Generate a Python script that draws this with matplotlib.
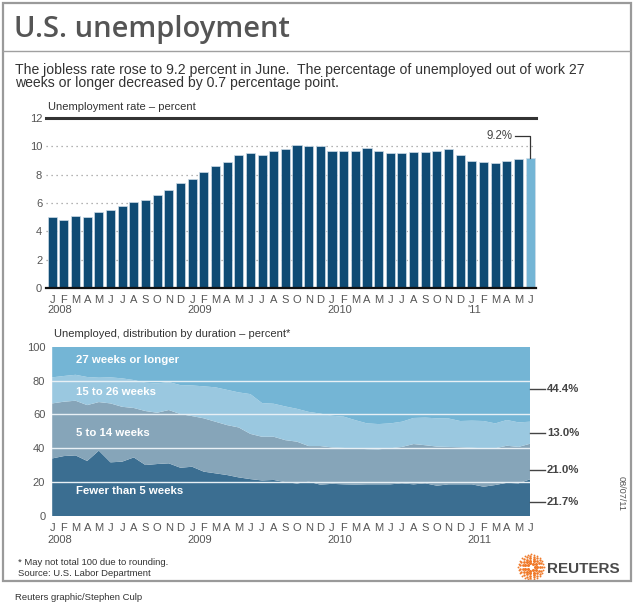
import matplotlib
matplotlib.use('Agg')
import matplotlib.pyplot as plt
import numpy as np
from matplotlib.patches import Rectangle
from matplotlib.lines import Line2D
import matplotlib.transforms as mtrans

W, H = 633, 602

# ---------------- data ----------------
months = list("JFMAMJJASOND") * 3 + list("JFMAMJ")
year_idx = [0, 12, 24, 36]
years_top = ["2008", "2009", "2010", "'11"]
years_bottom = ["2008", "2009", "2010", "2011"]

rate = [5.0, 4.8, 5.1, 5.0, 5.4, 5.5, 5.8, 6.1, 6.2, 6.6, 6.9, 7.4,
        7.7, 8.2, 8.6, 8.9, 9.4, 9.5, 9.4, 9.7, 9.8, 10.1, 10.0, 10.0,
        9.7, 9.7, 9.7, 9.9, 9.7, 9.5, 9.5, 9.6, 9.6, 9.7, 9.8, 9.4,
        9.0, 8.9, 8.8, 9.0, 9.1, 9.2]

fewer5 = [34.0, 35.4, 35.8, 32.5, 38.6, 31.7, 32.1, 34.6, 30.1, 30.7, 31.1, 28.5,
          29.1, 26.2, 25.2, 24.2, 22.8, 21.8, 21.0, 21.3, 20.0, 19.2, 20.3, 18.5,
          19.0, 18.7, 18.5, 18.7, 18.7, 18.7, 19.3, 18.7, 19.3, 17.9, 18.7, 18.7,
          18.7, 17.3, 18.3, 19.6, 19.3, 21.7]
w5_14 = [32.5, 32.1, 32.3, 33.0, 28.7, 34.8, 32.4, 29.2, 31.9, 30.3, 31.5, 31.7,
         29.9, 31.5, 30.5, 29.5, 29.5, 26.7, 25.8, 25.5, 24.8, 24.7, 21.0, 22.8,
         21.5, 21.5, 21.3, 20.8, 20.7, 21.3, 21.5, 23.8, 22.5, 23.1, 22.1, 21.9,
         21.6, 22.7, 21.7, 21.9, 21.5, 21.0]
w15_26 = [15.4, 15.2, 15.3, 16.6, 14.4, 15.4, 16.8, 16.5, 16.7, 17.3, 16.5, 17.1,
          18.1, 18.9, 20.3, 20.8, 20.7, 23.5, 19.9, 19.5, 19.9, 19.4, 20.2, 19.2,
          18.7, 18.5, 16.8, 15.2, 14.9, 14.7, 14.9, 15.4, 16.3, 16.7, 16.8, 15.5,
          16.0, 16.1, 14.7, 15.2, 14.5, 13.0]
w27 = [18.1, 17.3, 16.6, 17.9, 18.3, 18.1, 18.7, 19.7, 21.3, 21.7, 20.9, 22.7,
       22.9, 23.4, 24.0, 25.5, 27.0, 28.0, 33.3, 33.7, 35.3, 36.7, 38.5, 39.5,
       40.8, 41.3, 43.4, 45.3, 45.7, 45.3, 44.3, 42.1, 41.9, 42.3, 42.4, 43.9,
       43.7, 43.9, 45.3, 43.3, 44.7, 44.4]
layer_names = ["Fewer than 5 weeks", "5 to 14 weeks", "15 to 26 weeks", "27 weeks or longer"]
end_labels = ["21.7%", "21.0%", "13.0%", "44.4%"]

# ---------------- style ----------------
SANS = ['Liberation Sans', 'DejaVu Sans']
NARROW = ['Liberation Sans Narrow', 'Liberation Sans', 'DejaVu Sans']
plt.rcParams['font.family'] = SANS
GRAY_TXT = '#555555'
DARK_TXT = '#333333'
BAR = '#0f4b74'
LAST_BAR = '#74b5d5'
LAYER_COLORS = ['#3b6e91', '#86a5b9', '#9ac8e0', '#74b5d5']

fig = plt.figure(figsize=(W / 100, H / 100), dpi=100)


def fx(px):
    return px / W


def fy(py):
    return 1 - py / H


# frame
fig.patches.append(Rectangle((fx(2.5), fy(581)), fx(630.5) - fx(2.5), fy(2.5) - fy(581),
                             transform=fig.transFigure, fill=False,
                             edgecolor='#9a9a9a', lw=1.6))
fig.lines.append(Line2D([fx(3), fx(630)], [fy(51), fy(51)], transform=fig.transFigure,
                        color='#a0a0a0', lw=1.0))

# title and subtitle
fig.text(fx(14), fy(37), "U.S. unemployment", fontsize=21, color=GRAY_TXT,
         family=['Open Sans', 'DejaVu Sans'], fontweight='semibold', va='baseline')
fig.text(fx(15), fy(74), "The jobless rate rose to 9.2 percent in June.  The percentage of unemployed out of work 27",
         fontsize=10.1, color=DARK_TXT, va='baseline')
fig.text(fx(15), fy(87.5), "weeks or longer decreased by 0.7 percentage point.",
         fontsize=10.1, color=DARK_TXT, va='baseline')

# ---------------- top chart ----------------
ax1 = fig.add_axes([fx(46.4), fy(288), fx(536) - fx(46.4), fy(118) - fy(288)])
x = np.arange(len(rate))
colors = [BAR] * (len(rate) - 1) + [LAST_BAR]
ax1.bar(x, rate, width=0.78, color=colors, edgecolor='#cfdde8', linewidth=0.5, zorder=3)
ax1.set_xlim(-0.5, len(rate) - 0.5)
ax1.set_ylim(0, 12)
for v in [2, 4, 6, 8, 10]:
    ax1.axhline(v, color='#9a9a9a', lw=0.9, ls=(0, (1, 3)), zorder=1)
ax1.axhline(12, color='#333333', lw=2.2, zorder=4, clip_on=False)
ax1.axhline(0, color='#111111', lw=1.6, zorder=4, clip_on=False)
for s in ax1.spines.values():
    s.set_visible(False)
ax1.set_yticks(range(0, 13, 2))
ax1.set_xticks(x)
ax1.set_xticklabels(months)
ax1.tick_params(axis='both', length=0, labelsize=8, labelcolor=GRAY_TXT)
ax1.tick_params(axis='y', pad=3)
ax1.tick_params(axis='x', pad=5)
ax1.patch.set_visible(False)
tr1 = mtrans.blended_transform_factory(ax1.transData, ax1.transAxes)
for i, lab in zip(year_idx, years_top):
    ax1.text(i - 0.4, -0.13, lab, transform=tr1, fontsize=8, color=GRAY_TXT,
             ha='left', va='center')
fig.text(fx(48), fy(110), "Unemployment rate \u2013 percent", fontsize=8, color=DARK_TXT,
         va='baseline')
# annotation for last bar
last = len(rate) - 1
ax1.plot([last - 1.3, last, last], [10.73, 10.73, rate[-1]], color='#333333', lw=0.9,
         zorder=5, clip_on=False)
ax1.text(last - 1.55, 10.73, f"{rate[-1]:.1f}%", fontsize=8.3, color='#444444',
         ha='right', va='center')

# ---------------- bottom chart ----------------
ax2 = fig.add_axes([fx(52.2), fy(516), fx(530.2) - fx(52.2), fy(346.7) - fy(516)])
series = [fewer5, w5_14, w15_26, w27]
ax2.stackplot(x, *series, colors=LAYER_COLORS, linewidth=0, zorder=1)
ax2.set_xlim(0, len(rate) - 1)
ax2.set_ylim(0, 100)
for v in [20, 40, 60, 80]:
    ax2.axhline(v, color='#e8f0f5', lw=1.0, zorder=3)
for s in ax2.spines.values():
    s.set_visible(False)
ax2.set_yticks(range(0, 101, 20))
ax2.set_xticks(x)
ax2.set_xticklabels(months)
ax2.tick_params(axis='both', length=0, labelsize=8, labelcolor=GRAY_TXT)
ax2.tick_params(axis='y', pad=5)
ax2.tick_params(axis='x', pad=5)
tr2 = mtrans.blended_transform_factory(ax2.transData, ax2.transAxes)
for i, lab in zip(year_idx, years_bottom):
    ax2.text(i - 0.4, -0.14, lab, transform=tr2, fontsize=8, color=GRAY_TXT,
             ha='left', va='center')
fig.text(fx(54), fy(337), "Unemployed, distribution by duration \u2013 percent*", fontsize=8,
         color=DARK_TXT, va='baseline')

# layer labels (inside)
label_y = [14.7, 49.0, 73.2, 92.0]
for name, ly in zip(layer_names, label_y):
    ax2.text(2.0, ly, name, fontsize=8.2, fontweight='bold', color='white',
             ha='left', va='center', zorder=5)

# end labels on the right
end_y = [8.1, 26.9, 48.9, 75.0]
for lab, ly in zip(end_labels, end_y):
    ax2.plot([len(rate) - 1, len(rate) - 1 + 1.25], [ly, ly], color='#444444', lw=1.0,
             clip_on=False)
    ax2.text(len(rate) - 1 + 1.45, ly, lab, fontsize=8.2, fontweight='bold', color='#444444',
             ha='left', va='center')

fig.text(fx(621.5), fy(493), "08/07/11", rotation=270, fontsize=6.6, color=GRAY_TXT,
         ha='center', va='center')

# ---------------- footer ----------------
fig.text(fx(18), fy(565), "* May not total 100 due to rounding.", fontsize=6.8,
         color=DARK_TXT, va='baseline', family=NARROW)
fig.text(fx(18), fy(575.7), "Source: U.S. Labor Department", fontsize=6.8,
         color=DARK_TXT, va='baseline', family=NARROW)
fig.text(fx(15), fy(600), "Reuters graphic/Stephen Culp", fontsize=6.8,
         color=DARK_TXT, va='baseline', family=NARROW)

# Reuters logo: dotted orange disc + wordmark
logo_ax = fig.add_axes([fx(517), fy(581), fx(545) - fx(517), fy(553) - fy(581)])
logo_ax.set_xlim(-1.1, 1.1)
logo_ax.set_ylim(-1.1, 1.1)
logo_ax.axis('off')
for r, n, sz in [(0.3, 7, 5), (0.5, 11, 5), (0.68, 15, 4), (0.85, 19, 3), (1.0, 24, 1.8)]:
    ang = np.linspace(0, 2 * np.pi, n, endpoint=False)
    logo_ax.scatter(r * np.cos(ang), r * np.sin(ang), s=sz, color='#f07a2a', lw=0)
fig.text(fx(547), fy(573), "REUTERS", fontsize=11, fontweight='bold', color='#4a4a4a',
         va='baseline')

fig.savefig('out.png', dpi=100)
